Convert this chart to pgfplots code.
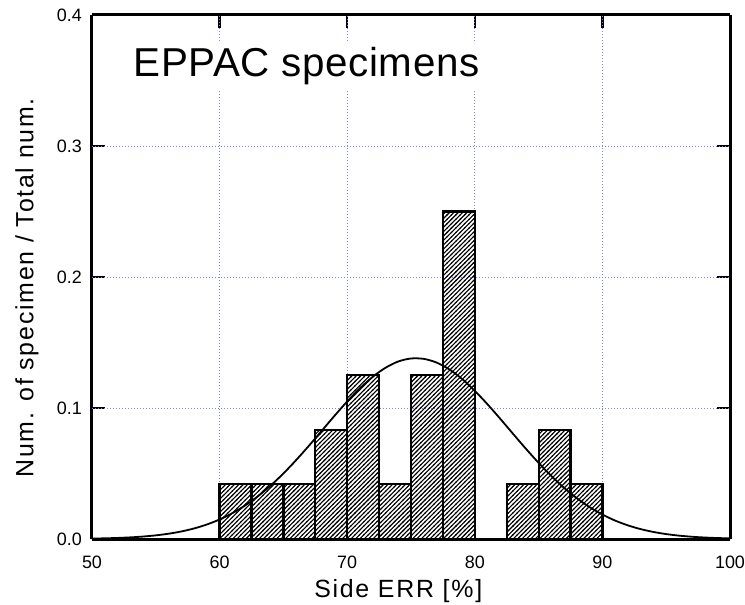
\documentclass[border=0pt]{standalone}
\usepackage{fontspec}
\setmainfont{Liberation Sans}
\newfontfamily\lblfont[LetterSpace=7]{Liberation Sans}
\newfontfamily\ttlfont[LetterSpace=1.5]{Liberation Sans}
\usepackage{pgfplots}
\pgfplotsset{compat=1.18}
\usetikzlibrary{patterns}
\pgfdeclarepatternformonly{myhatch}{\pgfqpoint{-1pt}{-1pt}}{\pgfqpoint{5.4pt}{5.4pt}}{\pgfqpoint{4.4pt}{4.4pt}}{%
  \pgfsetlinewidth{1.1pt}%
  \pgfpathmoveto{\pgfqpoint{-0.5pt}{-0.5pt}}%
  \pgfpathlineto{\pgfqpoint{4.9pt}{4.9pt}}%
  \pgfusepath{stroke}%
}
\definecolor{gridblue}{RGB}{128,128,255}
\begin{document}
\begin{tikzpicture}
\begin{axis}[
  scale only axis, width=638bp, height=524bp,
  tick align=inside,
  major tick length=13bp,
  xtick style={black, solid, line width=2.5bp},
  ytick style={black, solid, line width=2.5bp},
  separate axis lines,
  axis line style={solid, line width=3bp, black},
  xmin=50, xmax=100, ymin=0, ymax=0.4,
  xtick={50,60,70,80,90,100},
  ytick={0,0.1,0.2,0.3,0.4},
  grid=none,
  ticklabel style={font=\fontsize{18}{20}\selectfont, /pgf/number format/assume math mode=true},
  xticklabel style={inner sep=0pt, yshift=-17bp},
  yticklabel style={inner sep=0pt, xshift=-10bp, /pgf/number format/fixed, /pgf/number format/fixed zerofill, /pgf/number format/precision=1},
  xlabel={\lblfont\fontsize{25}{28}\selectfont Side ERR [\%]},
  xlabel style={at={(axis description cs:0.48,-0.1107)}, anchor=base},
  ylabel={\lblfont\fontsize{25}{28}\selectfont Num. of specimen / Total num.},
  ylabel style={at={(axis description cs:-0.092,0.479)}, anchor=base},
]
% grid lines
\addplot[gridblue, line width=0.9bp, dash pattern=on 1bp off 2bp, no marks, forget plot] coordinates {(60,0) (60,0.4)};
\addplot[gridblue, line width=0.9bp, dash pattern=on 1bp off 2bp, no marks, forget plot] coordinates {(70,0) (70,0.4)};
\addplot[gridblue, line width=0.9bp, dash pattern=on 1bp off 2bp, no marks, forget plot] coordinates {(80,0) (80,0.4)};
\addplot[gridblue, line width=0.9bp, dash pattern=on 1bp off 2bp, no marks, forget plot] coordinates {(90,0) (90,0.4)};
\addplot[gridblue, line width=0.9bp, dash pattern=on 1bp off 2bp, no marks, forget plot] coordinates {(50,0.1) (100,0.1)};
\addplot[gridblue, line width=0.9bp, dash pattern=on 1bp off 2bp, no marks, forget plot] coordinates {(50,0.2) (100,0.2)};
\addplot[gridblue, line width=0.9bp, dash pattern=on 1bp off 2bp, no marks, forget plot] coordinates {(50,0.3) (100,0.3)};
\addplot[ybar interval, solid, draw=black, line width=2.2bp,
  pattern=myhatch, pattern color=black]
coordinates {
(50,0) (52.5,0) (55,0) (57.5,0)
(60,0.0417) (62.5,0.0417) (65,0.0417) (67.5,0.0833)
(70,0.125) (72.5,0.0417) (75,0.125) (77.5,0.25)
(80,0) (82.5,0.0417) (85,0.0833) (87.5,0.0417)
(90,0) (92.5,0) (95,0) (97.5,0) (100,0)
};
\addplot[black, solid, line width=1.8bp, smooth, no marks] coordinates {
(50,0.000325) (51,0.000518) (52,0.000810) (53,0.001245) (54,0.001878)
(55,0.002779) (56,0.004041) (57,0.005756) (58,0.008054) (59,0.01106)
(60,0.01491) (61,0.01972) (62,0.02560) (63,0.03261) (64,0.04078)
(65,0.05002) (66,0.06024) (67,0.07118) (68,0.08255) (69,0.09398)
(70,0.1050) (71,0.1151) (72,0.1238) (73,0.1307) (74,0.1355)
(75,0.1378) (76,0.1375) (77,0.1347) (78,0.1295) (79,0.1222)
(80,0.1131) (81,0.1028) (82,0.09170) (83,0.08026) (84,0.06894)
(85,0.05813) (86,0.04809) (87,0.03905) (88,0.03112) (89,0.02433)
(90,0.01868) (91,0.01406) (92,0.01040) (93,0.007546) (94,0.005371)
(95,0.003752) (96,0.002575) (97,0.001733) (98,0.001144) (99,0.000742)
(100,0.000472)
};
\node[anchor=base west, fill=white, inner xsep=2bp, inner ysep=6bp,
  font=\ttlfont\fontsize{40.5}{44}\selectfont] at (axis cs:53.1,0.3534) {EPPAC specimens};
\end{axis}
\pgfresetboundingbox
\path (-92bp,-66bp) rectangle (653bp,539bp);
\end{tikzpicture}
\end{document}
